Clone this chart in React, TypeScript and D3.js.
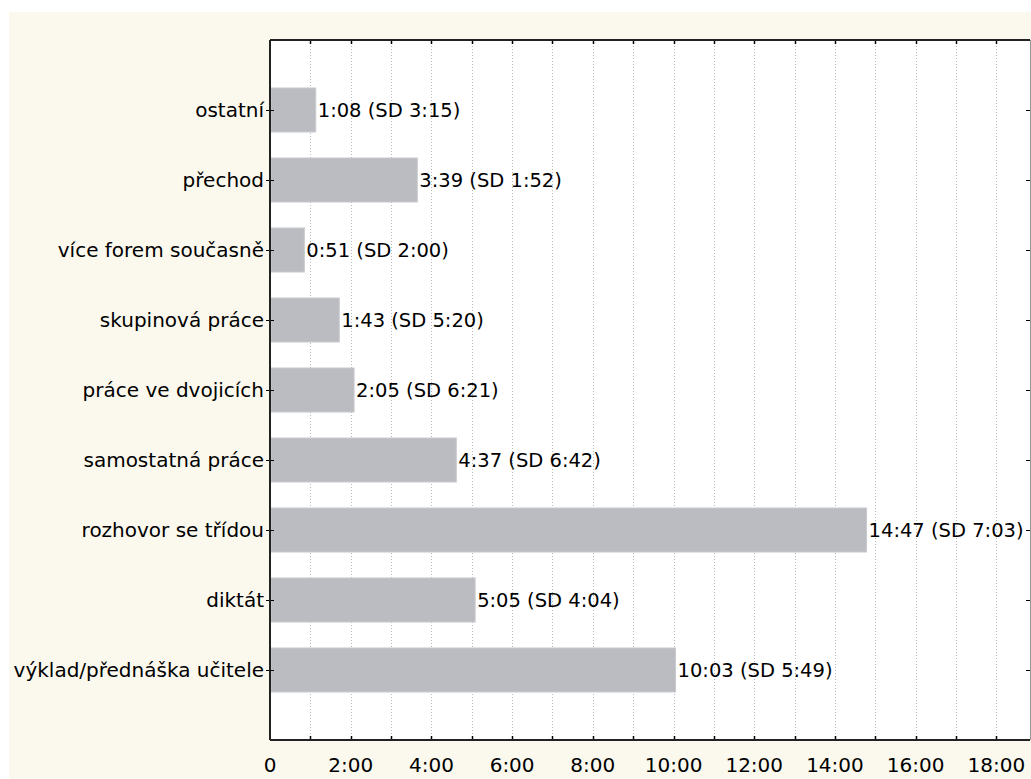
import React from "react";
import * as d3 from "d3";

const categories = [
  "ostatní",
  "přechod",
  "více forem současně",
  "skupinová práce",
  "práce ve dvojicích",
  "samostatná práce",
  "rozhovor se třídou",
  "diktát",
  "výklad/přednáška učitele",
];
// mean durations in seconds
const meanSeconds = [68, 219, 51, 103, 125, 277, 887, 305, 603];
// standard deviations in seconds
const sdSeconds = [195, 112, 120, 320, 381, 402, 423, 244, 349];
const tickMinutes = [0, 2, 4, 6, 8, 10, 12, 14, 16, 18];
const gridMinutes = d3.range(1, 19);

const W = 1031;
const H = 779;
const left = 270;
const right = 1030;
const top = 40;
const bottom = 740;
const FONT = "'DejaVu Sans', Verdana, sans-serif";

function fmt(s: number) {
  const m = Math.floor(s / 60);
  const r = s % 60;
  return `${m}:${r < 10 ? "0" + r : r}`;
}

export default function App() {
  const x = d3.scaleLinear().domain([0, 1130]).range([left, right]);
  const y = d3.scaleLinear().domain([0, categories.length + 1]).range([top, bottom]);
  const barH = 44;

  return (
    <svg
      width={W}
      height={H}
      style={{ position: "absolute", left: 0, top: 0, background: "#ffffff" }}
    >
      <rect x={9} y={12} width={W - 9} height={H - 12} fill="#fbf9ee" />
      <rect x={left} y={top} width={right - left} height={bottom - top} fill="#ffffff" />
      {gridMinutes.map((m) => (
        <line
          key={"g" + m}
          x1={Math.round(x(m * 60)) + 0.5}
          x2={Math.round(x(m * 60)) + 0.5}
          y1={top}
          y2={bottom}
          stroke="#b8b8b8"
          strokeWidth={1}
          strokeDasharray="1,2"
        />
      ))}
      {categories.map((c, i) => {
        const cy = y(i + 1);
        const x1 = x(meanSeconds[i]);
        return (
          <g key={c}>
            <rect
              x={left + 1}
              y={cy - barH / 2}
              width={x1 - left - 1}
              height={barH}
              fill="#bbbcc1"
              stroke="#c9cacd"
              strokeWidth={1}
            />
            <text
              x={x1 + 2}
              y={cy}
              dy="0.36em"
              fontFamily={FONT}
              fontSize={19.5}
              fill="#000"
            >
              {`${fmt(meanSeconds[i])} (SD ${fmt(sdSeconds[i])})`}
            </text>
            <text
              x={left - 6}
              y={cy}
              dy="0.36em"
              textAnchor="end"
              fontFamily={FONT}
              fontSize={20}
              fill="#000"
            >
              {c}
            </text>
            <line x1={left - 4} x2={left + 4} y1={Math.round(cy) + 0.5} y2={Math.round(cy) + 0.5} stroke="#000" />
            <line x1={right - 4} x2={right} y1={Math.round(cy) + 0.5} y2={Math.round(cy) + 0.5} stroke="#000" />
          </g>
        );
      })}
      {gridMinutes.map((m) => (
        <g key={"t" + m}>
          <line
            x1={Math.round(x(m * 60)) + 0.5}
            x2={Math.round(x(m * 60)) + 0.5}
            y1={top}
            y2={top + 4}
            stroke="#000"
            strokeWidth={1.5}
          />
          <line
            x1={Math.round(x(m * 60)) + 0.5}
            x2={Math.round(x(m * 60)) + 0.5}
            y1={bottom - 4}
            y2={bottom}
            stroke="#000"
            strokeWidth={1.5}
          />
        </g>
      ))}
      <line x1={left} x2={right} y1={top} y2={top} stroke="#222" strokeWidth={2} />
      <line x1={left} x2={right} y1={bottom} y2={bottom} stroke="#222" strokeWidth={2} />
      <line x1={left} x2={left} y1={top} y2={bottom} stroke="#222" strokeWidth={2} />
      <line x1={right + 0.5} x2={right + 0.5} y1={top} y2={bottom} stroke="#999" strokeWidth={1} />
      {tickMinutes.map((m) => (
        <text
          key={"l" + m}
          x={x(m * 60)}
          y={772}
          textAnchor="middle"
          fontFamily={FONT}
          fontSize={20}
          fill="#000"
        >
          {m === 0 ? "0" : `${m}:00`}
        </text>
      ))}
    </svg>
  );
}
